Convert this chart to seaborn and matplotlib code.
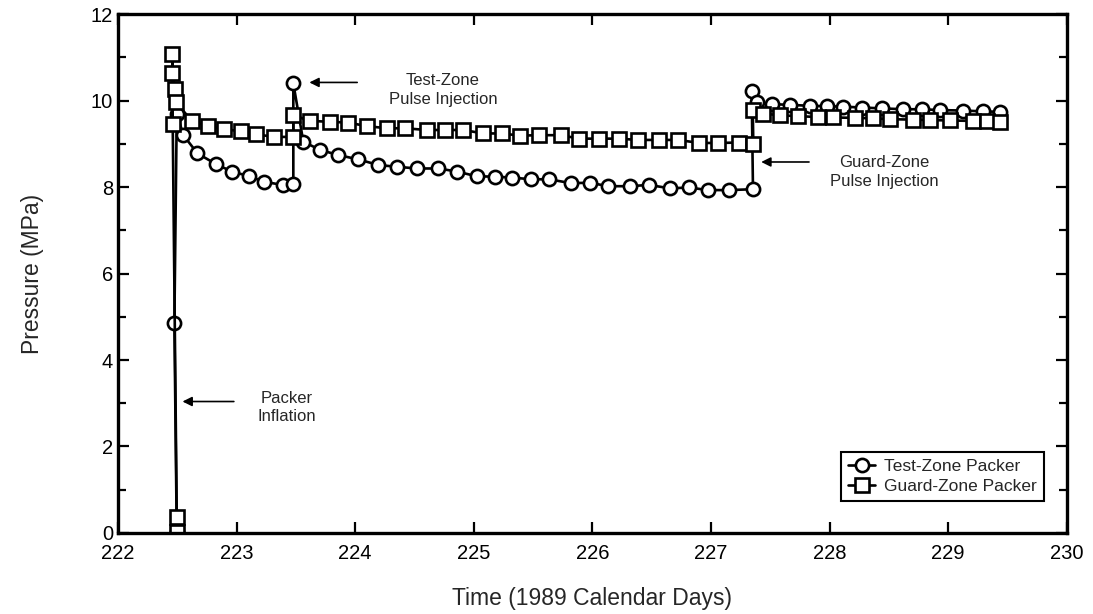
import numpy as np
import pandas as pd
import matplotlib
matplotlib.use("Agg")
import matplotlib.pyplot as plt
from matplotlib.ticker import MultipleLocator
import seaborn as sns

# Test-Zone Packer (circles): time in days since 222, pressure in MPa
test_day_offset = [0.495, 0.475, 0.495, 0.551, 0.669, 0.826, 0.959, 1.107, 1.234, 1.389, 1.478,
                   1.478, 1.562, 1.703, 1.858, 2.026, 2.195, 2.350, 2.519, 2.701, 2.856, 3.024,
                   3.179, 3.322, 3.482, 3.634, 3.820, 3.980, 4.132, 4.317, 4.477, 4.654, 4.815,
                   4.975, 5.152, 5.354, 5.343, 5.385, 5.512, 5.666, 5.835, 5.975, 6.116, 6.271,
                   6.439, 6.621, 6.777, 6.931, 7.127, 7.296, 7.437]
test_pressure = [0.02, 4.86, 9.70, 9.20, 8.78, 8.53, 8.36, 8.25, 8.12, 8.05, 8.06,
                 10.40, 9.05, 8.86, 8.74, 8.64, 8.51, 8.47, 8.43, 8.43, 8.36, 8.25,
                 8.24, 8.22, 8.18, 8.18, 8.09, 8.10, 8.02, 8.02, 8.05, 7.97, 7.99,
                 7.93, 7.93, 7.95, 10.22, 9.97, 9.92, 9.90, 9.88, 9.87, 9.86, 9.84,
                 9.82, 9.80, 9.80, 9.78, 9.77, 9.75, 9.74]

# Guard-Zone Packer (squares)
guard_day_offset = [0.495, 0.495, 0.461, 0.458, 0.458, 0.481, 0.487, 0.621, 0.756, 0.894, 1.035,
                    1.164, 1.318, 1.478, 1.478, 1.619, 1.788, 1.942, 2.097, 2.266, 2.420, 2.603,
                    2.757, 2.911, 3.080, 3.235, 3.390, 3.552, 3.733, 3.890, 4.058, 4.224, 4.382,
                    4.564, 4.724, 4.901, 5.062, 5.239, 5.357, 5.352, 5.438, 5.582, 5.734, 5.902,
                    6.029, 6.214, 6.366, 6.509, 6.703, 6.847, 7.015, 7.209, 7.327, 7.437]
guard_pressure = [0.02, 0.38, 9.47, 11.07, 10.63, 10.26, 9.97, 9.53, 9.41, 9.34, 9.29,
                  9.22, 9.16, 9.16, 9.66, 9.53, 9.51, 9.49, 9.41, 9.36, 9.36, 9.32,
                  9.32, 9.32, 9.24, 9.24, 9.19, 9.20, 9.20, 9.12, 9.12, 9.12, 9.09,
                  9.09, 9.09, 9.02, 9.02, 9.03, 8.99, 9.78, 9.70, 9.66, 9.64, 9.62,
                  9.61, 9.60, 9.59, 9.57, 9.56, 9.55, 9.54, 9.53, 9.52, 9.51]

day_base = 222
x_ticks = [222, 223, 224, 225, 226, 227, 228, 229, 230]
y_ticks = [0, 2, 4, 6, 8, 10, 12]

series_names = ["Test-Zone Packer", "Guard-Zone Packer"]

df_test = pd.DataFrame({"day": np.array(test_day_offset) + day_base, "p": test_pressure})
df_guard = pd.DataFrame({"day": np.array(guard_day_offset) + day_base, "p": guard_pressure})

sns.set_theme(style="ticks")
plt.rcParams["font.family"] = ["Liberation Sans", "DejaVu Sans"]

fig = plt.figure(figsize=(10.93, 6.14), dpi=100)
ax = fig.add_axes([0.108, 0.132, 0.868, 0.845])

common = dict(color="black", linewidth=1.9, markersize=9.5, markeredgewidth=1.9,
              markerfacecolor="white", markeredgecolor="black",
              sort=False, estimator=None, ax=ax)
sns.lineplot(data=df_test, x="day", y="p", marker="o", label=series_names[0], **common)
sns.lineplot(data=df_guard, x="day", y="p", marker="s", label=series_names[1], **common)

ax.set_xlim(222, 230)
ax.set_ylim(0, 12)
ax.set_xticks(x_ticks)
ax.set_yticks(y_ticks)
ax.yaxis.set_minor_locator(MultipleLocator(1))
ax.tick_params(which="both", direction="in", top=True, right=True, width=1.6,
               labelsize=14.5, colors="black")
ax.tick_params(which="major", length=8)
ax.tick_params(which="minor", length=6)
ax.tick_params(axis="x", pad=8)
for s in ax.spines.values():
    s.set_linewidth(2.4)
    s.set_color("black")

ax.set_xlabel("Time (1989 Calendar Days)", fontsize=16.5, labelpad=17)
ax.set_ylabel("Pressure (MPa)", fontsize=16.5, labelpad=34)

arrow = dict(arrowstyle="-|>", color="black", lw=1.2, mutation_scale=14)
ax.annotate("", xy=(223.59, 10.42), xytext=(224.04, 10.42), arrowprops=arrow)
ax.text(224.74, 10.25, "Test-Zone\nPulse Injection", ha="center", va="center",
        fontsize=12, linespacing=1.3)
ax.annotate("", xy=(222.52, 3.04), xytext=(223.0, 3.04), arrowprops=arrow)
ax.text(223.42, 2.9, "Packer\nInflation", ha="center", va="center",
        fontsize=12, linespacing=1.3)
ax.annotate("", xy=(227.40, 8.58), xytext=(227.85, 8.58), arrowprops=arrow)
ax.text(228.46, 8.35, "Guard-Zone\nPulse Injection", ha="center", va="center",
        fontsize=12, linespacing=1.3)

leg = ax.legend(loc="lower right", bbox_to_anchor=(0.985, 0.045), fontsize=12.5,
                frameon=True, fancybox=False, edgecolor="black", framealpha=1,
                handlelength=1.6, handletextpad=0.5, borderpad=0.4, labelspacing=0.3)
leg.get_frame().set_linewidth(1.5)

fig.savefig("out.png", dpi=100)
